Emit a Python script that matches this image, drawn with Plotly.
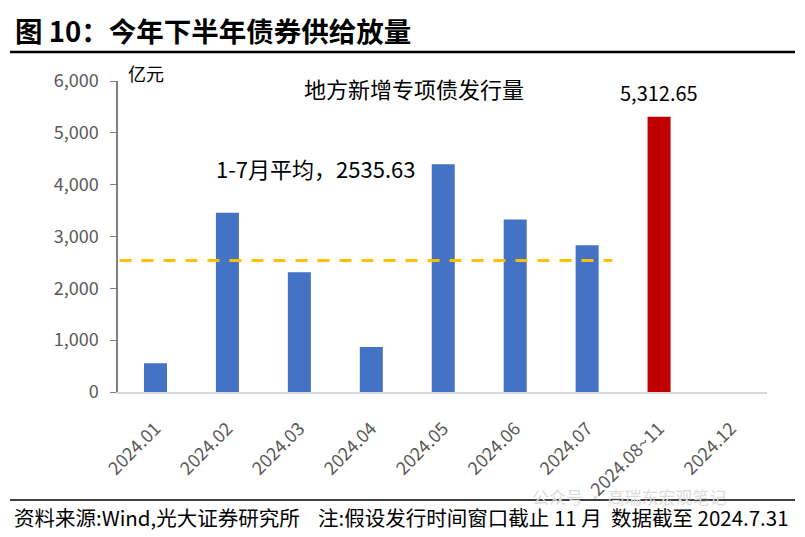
import plotly.graph_objects as go

categories = ["2024.01", "2024.02", "2024.03", "2024.04", "2024.05", "2024.06", "2024.07", "2024.08~11", "2024.12"]
values = [555, 3460, 2310, 870, 4395, 3330, 2829, 5312.65, None]
bar_colors = ["#4472C4"] * 7 + ["#C00000", "#4472C4"]
avg_1_7 = 2535.63
y_ticks = [0, 1000, 2000, 3000, 4000, 5000, 6000]

font = "Noto Sans CJK SC"

# The page body has an 8px margin, so the figure is drawn 8px smaller and
# all positions below are given in window pixels, converted to paper units.
PL, PR, PT, PB = 118, 767, 81, 392  # plot area in window pixels
def px(sx):
    return (sx - PL) / (PR - PL)
def py(sy):
    return (PB - sy) / (PB - PT)

fig = go.Figure()
fig.add_trace(go.Bar(x=categories, y=values, marker=dict(color=bar_colors, line=dict(width=0)),
                     hoverinfo="x+y"))

fig.add_shape(type="line", xref="x", yref="y", x0=-0.5, x1=6.35, y0=avg_1_7, y1=avg_1_7,
              line=dict(color="#FFC000", width=3, dash="12px,10px"))

fig.add_annotation(xref="x", yref="paper", x=7, y=py(92), xanchor="center", yanchor="middle",
                   text="5,312.65", showarrow=False, font=dict(family=font, size=20, color="#000000"))
fig.add_annotation(xref="paper", yref="paper", x=px(315), y=py(168), xanchor="center", yanchor="middle",
                   text="1-7月平均，" + f"{avg_1_7:.2f}", showarrow=False,
                   font=dict(family=font, size=22, color="#000000"))
fig.add_annotation(xref="paper", yref="paper", x=px(414), y=py(88), xanchor="center", yanchor="middle",
                   text="地方新增专项债发行量", showarrow=False,
                   font=dict(family=font, size=22, color="#000000"))
fig.add_annotation(xref="paper", yref="paper", x=px(146), y=py(73), xanchor="center", yanchor="middle",
                   text="亿元", showarrow=False,
                   font=dict(family=font, size=18, color="#000000"))

# watermark
fig.add_annotation(xref="paper", yref="paper", x=px(530), y=py(496), xanchor="left", yanchor="middle",
                   text="公众号 · 高瑞东宏观笔记", showarrow=False,
                   font=dict(family=font, size=17, color="#DCDCDC"))

# Title, rules and footer
fig.add_annotation(xref="paper", yref="paper", x=px(13), y=py(30), xanchor="left", yanchor="middle",
                   text="<b>图 10：今年下半年债券供给放量</b>", showarrow=False,
                   font=dict(family=font, size=27.5, color="#000000"))
fig.add_annotation(xref="paper", yref="paper", x=px(12), y=py(517), xanchor="left", yanchor="middle",
                   text="资料来源:Wind,光大证券研究所&nbsp;&nbsp;&nbsp;&nbsp;注:假设发行时间窗口截止 11 月&nbsp;&nbsp;数据截至 2024.7.31",
                   showarrow=False, font=dict(family=font, size=20.5, color="#000000"))
for yy, w in [(52, 2.5), (500, 1.5)]:
    fig.add_shape(type="line", xref="paper", yref="paper", x0=px(10), x1=px(795),
                  y0=py(yy), y1=py(yy), line=dict(color="#000000", width=w))

fig.update_layout(
    width=797, height=529,
    margin=dict(l=PL - 8, r=797 - (PR - 8), t=PT - 8, b=529 - (PB - 8)),
    plot_bgcolor="white", paper_bgcolor="white",
    bargap=0.68, showlegend=False,
    font=dict(family=font),
    xaxis=dict(tickangle=-45, tickfont=dict(family=font, size=18, color="#595959"),
               showline=True, linecolor="#D9D9D9", linewidth=2, showgrid=False,
               ticks="outside", ticklen=17, tickcolor="rgba(0,0,0,0)", automargin=False),
    yaxis=dict(range=[0, 6000], tickvals=y_ticks, tickformat=",",
               tickfont=dict(family=font, size=18, color="#595959"),
               showline=True, linecolor="#7F7F7F", linewidth=1.5, ticks="outside",
               tickcolor="#7F7F7F", ticklen=6, ticklabelstandoff=8,
               showgrid=False, zeroline=False, automargin=False),
)

fig.write_html("out.html")
